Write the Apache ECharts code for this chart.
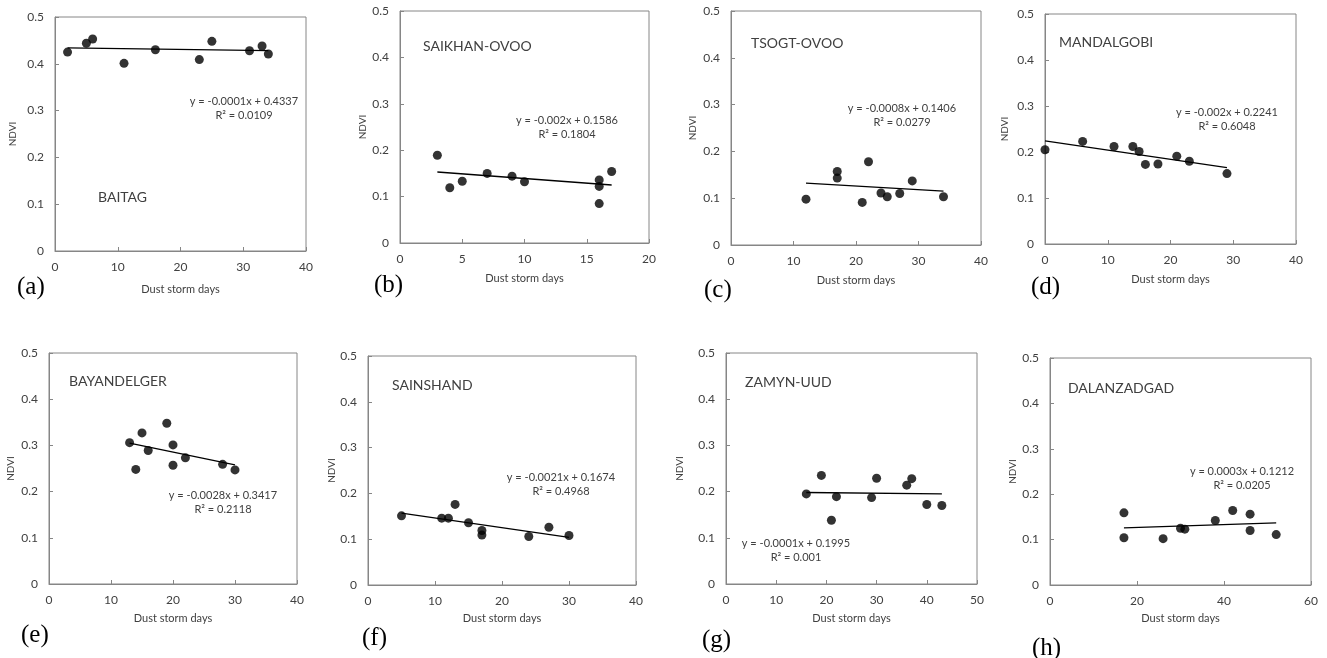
<!DOCTYPE html>
<html>
<head>
<meta charset="utf-8">
<title>NDVI vs dust storm days</title>
<script src="https://cdn.jsdelivr.net/npm/echarts@6/dist/echarts.min.js"></script>
<style>
  html, body { margin: 0; padding: 0; background: #fff; }
  #chart { width: 1327px; height: 658px; }
</style>
</head>
<body>
<div id="chart"></div>
<script>
// one entry per panel, (a) .. (h)
const stations = ['BAITAG', 'SAIKHAN-OVOO', 'TSOGT-OVOO', 'MANDALGOBI', 'BAYANDELGER', 'SAINSHAND', 'ZAMYN-UUD', 'DALANZADGAD']
const panelLetters = ['(a)', '(b)', '(c)', '(d)', '(e)', '(f)', '(g)', '(h)']
const xMax = [40, 20, 40, 40, 40, 40, 50, 60]
const xStep = [10, 5, 10, 10, 10, 10, 10, 20]
const yMax = 0.5
const yStep = 0.1
const equations = [
  'y = -0.0001x + 0.4337', 'y = -0.002x + 0.1586', 'y = -0.0008x + 0.1406', 'y = -0.002x + 0.2241',
  'y = -0.0028x + 0.3417', 'y = -0.0021x + 0.1674', 'y = -0.0001x + 0.1995', 'y = 0.0003x + 0.1212'
]
const rSquared = ['R² = 0.0109', 'R² = 0.1804', 'R² = 0.0279', 'R² = 0.6048', 'R² = 0.2118', 'R² = 0.4968', 'R² = 0.001', 'R² = 0.0205']

// dust storm days (x) and NDVI (y)
const baitagDays = [2, 5, 6, 11, 16, 23, 25, 31, 33, 34]
const baitagNdvi = [0.425, 0.444, 0.453, 0.401, 0.430, 0.409, 0.448, 0.428, 0.438, 0.421]
const saikhanDays = [3, 4, 5, 7, 9, 10, 16, 16, 16, 17]
const saikhanNdvi = [0.189, 0.119, 0.133, 0.150, 0.144, 0.132, 0.136, 0.122, 0.085, 0.154]
const tsogtDays = [12, 17, 17, 21, 22, 24, 25, 27, 29, 34]
const tsogtNdvi = [0.098, 0.157, 0.143, 0.091, 0.178, 0.111, 0.103, 0.110, 0.137, 0.103]
const mandalgobiDays = [0, 6, 11, 14, 15, 16, 18, 21, 23, 29]
const mandalgobiNdvi = [0.205, 0.223, 0.212, 0.212, 0.201, 0.173, 0.174, 0.191, 0.180, 0.153]
const bayandelgerDays = [13, 14, 15, 16, 19, 20, 20, 22, 28, 30]
const bayandelgerNdvi = [0.306, 0.248, 0.327, 0.289, 0.348, 0.301, 0.257, 0.273, 0.259, 0.247]
const sainshandDays = [5, 11, 12, 13, 15, 17, 17, 24, 27, 30]
const sainshandNdvi = [0.151, 0.146, 0.146, 0.176, 0.136, 0.119, 0.109, 0.106, 0.126, 0.108]
const zamynDays = [16, 19, 21, 22, 29, 30, 36, 37, 40, 43]
const zamynNdvi = [0.195, 0.235, 0.138, 0.189, 0.187, 0.229, 0.214, 0.228, 0.172, 0.170]
const dalanDays = [17, 17, 26, 30, 31, 38, 42, 46, 46, 52]
const dalanNdvi = [0.159, 0.104, 0.102, 0.125, 0.123, 0.142, 0.164, 0.156, 0.120, 0.111]

// linear trend line end points [x0, y0, x1, y1]
const trendLines = [
  [2, 0.434, 34, 0.428], [3, 0.153, 17, 0.125], [12, 0.132, 34, 0.115], [0, 0.224, 29, 0.166],
  [13, 0.305, 30, 0.258], [5, 0.157, 30, 0.104], [16, 0.198, 43, 0.195], [17, 0.126, 52, 0.137]
]

const daysByPanel = [baitagDays, saikhanDays, tsogtDays, mandalgobiDays, bayandelgerDays, sainshandDays, zamynDays, dalanDays]
const ndviByPanel = [baitagNdvi, saikhanNdvi, tsogtNdvi, mandalgobiNdvi, bayandelgerNdvi, sainshandNdvi, zamynNdvi, dalanNdvi]

// layout: plot box, station label, equation block, panel letter, axis name gaps
const layout = [
  { grid: [55, 17, 251, 234], station: [98, 197], eq: [244, 101, 115], letter: [17, 287], yGap: 37, xGap: 33 },
  { grid: [400, 11, 249, 232], station: [423, 46], eq: [567, 120, 134], letter: [374, 285], yGap: 32, xGap: 30 },
  { grid: [731, 11, 250, 234], station: [751, 43], eq: [902, 108, 122], letter: [704, 290], yGap: 33, xGap: 30 },
  { grid: [1045, 14, 251, 230], station: [1059, 42], eq: [1227, 112, 126], letter: [1031, 287], yGap: 35, xGap: 30 },
  { grid: [49, 353, 248, 231], station: [69, 381], eq: [223, 495, 509], letter: [21, 635], yGap: 33, xGap: 29 },
  { grid: [368, 356, 268, 229], station: [392, 385], eq: [561, 477, 491], letter: [362, 638], yGap: 30, xGap: 28 },
  { grid: [726, 353, 251, 231], station: [745, 382], eq: [796, 543, 557], letter: [702, 640], yGap: 41, xGap: 29 },
  { grid: [1050, 358, 261, 227], station: [1068, 388], eq: [1242, 471, 485], letter: [1032, 648], yGap: 32, xGap: 28 }
]

const FONT = 'Lato, "Open Sans", sans-serif'
const TEXT = '#404040'
const AXIS = '#868686'

const grids = [], xAxes = [], yAxes = [], series = [], graphics = []

layout.forEach((p, i) => {
  grids.push({
    left: p.grid[0], top: p.grid[1], width: p.grid[2], height: p.grid[3],
    show: true, borderColor: AXIS, borderWidth: 1, containLabel: false
  })
  xAxes.push({
    gridIndex: i, type: 'value', min: 0, max: xMax[i], interval: xStep[i],
    splitLine: { show: false },
    axisLine: { show: true, onZero: false, lineStyle: { color: AXIS } },
    axisTick: { show: true, inside: true, length: 4, lineStyle: { color: AXIS } },
    axisLabel: { color: TEXT, fontSize: 12, fontFamily: FONT, margin: 10 },
    name: 'Dust storm days', nameLocation: 'middle', nameGap: p.xGap,
    nameTextStyle: { color: TEXT, fontSize: 11, fontFamily: FONT }
  })
  yAxes.push({
    gridIndex: i, type: 'value', min: 0, max: yMax, interval: yStep,
    splitLine: { show: false },
    axisLine: { show: true, onZero: false, lineStyle: { color: AXIS } },
    axisTick: { show: true, inside: true, length: 4, lineStyle: { color: AXIS } },
    axisLabel: { color: TEXT, fontSize: 12, fontFamily: FONT, margin: 11 },
    name: 'NDVI', nameLocation: 'middle', nameGap: p.yGap, nameRotate: 90,
    nameTextStyle: { color: TEXT, fontSize: 10, fontFamily: FONT }
  })
  series.push({
    type: 'scatter', xAxisIndex: i, yAxisIndex: i,
    data: daysByPanel[i].map((d, k) => [d, ndviByPanel[i][k]]),
    symbolSize: 9, itemStyle: { color: '#000' }, z: 3
  })
  const t = trendLines[i]
  series.push({
    type: 'line', xAxisIndex: i, yAxisIndex: i,
    data: [[t[0], t[1]], [t[2], t[3]]],
    symbol: 'none', lineStyle: { color: '#000', width: 1.3 }, z: 2
  })
  graphics.push(
    { type: 'text', x: p.station[0], y: p.station[1],
      style: { text: stations[i], fill: TEXT, fontSize: 14, fontFamily: FONT, verticalAlign: 'middle' } },
    { type: 'text', x: p.eq[0], y: p.eq[1],
      style: { text: equations[i], fill: TEXT, fontSize: 11, fontFamily: FONT, align: 'center', verticalAlign: 'middle' } },
    { type: 'text', x: p.eq[0], y: p.eq[2],
      style: { text: rSquared[i], fill: TEXT, fontSize: 11, fontFamily: FONT, align: 'center', verticalAlign: 'middle' } },
    { type: 'text', x: p.letter[0], y: p.letter[1],
      style: { text: panelLetters[i], fill: '#000', fontSize: 25, fontFamily: '"Liberation Serif", serif', verticalAlign: 'middle' } }
  )
})

const chart = echarts.init(document.getElementById('chart'), null, { renderer: 'canvas' })
chart.setOption({
  animation: false,
  backgroundColor: '#fff',
  grid: grids,
  xAxis: xAxes,
  yAxis: yAxes,
  series: series,
  graphic: graphics
})
</script>
</body>
</html>
